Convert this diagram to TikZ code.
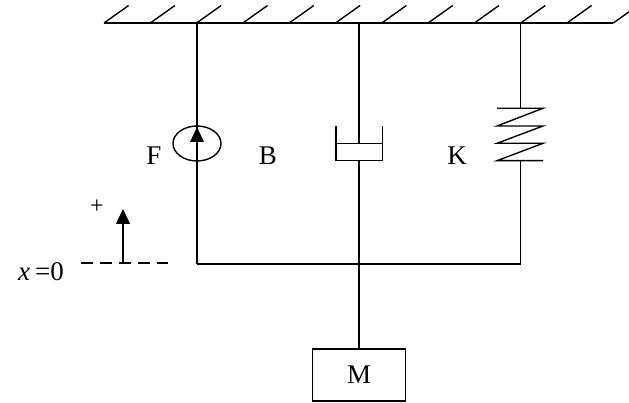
\documentclass[tikz,border=0pt]{standalone}
\usepackage{fontspec}
\setmainfont{Liberation Serif}
\usetikzlibrary{arrows.meta,shapes.geometric}
\begin{document}
\begin{tikzpicture}[x=1pt,y=-1pt,
  ln/.style={line width=1.4pt},
  lbl/.style={font=\fontsize{27}{27}\selectfont, inner sep=0pt},
  massbox/.style={draw, line width=1.4pt, minimum width=93pt, minimum height=52pt, inner sep=0pt, font=\fontsize{27}{27}\selectfont},
  srcell/.style={draw, ellipse, line width=1.4pt, minimum width=48pt, minimum height=35pt, inner sep=0pt}
]
\useasboundingbox (0,0) rectangle (629,403);
% ceiling
\coordinate (cl) at (104,23);
\coordinate (cr) at (613,23);
\draw[ln] (cl) -- (cr);
\foreach \k in {0,...,11}{
  \draw[ln] ({104+46.3*\k},23) -- ++(24.6,-17.5);
}
% attachment points
\coordinate (fa) at (197,23);
\coordinate (ba) at (359,23);
\coordinate (ka) at (520.5,23);
\coordinate (fb) at (197,264);
\coordinate (bb) at (359,264);
\coordinate (kb) at (520.5,264);
% F source
\node[srcell] (F) at (197,143.5) {};
\draw[ln] (fa) -- (fb);
\fill (197,127) -- (190,142) -- (204,142) -- cycle;
\node[lbl] (Fl) at (154,155.5) {F};
% dashpot
\coordinate (pist) at (359,143.3);
\coordinate (cyb) at (359,160.7);
\draw[ln] (ba) -- (pist);
\draw[ln] (336,143.3) -- (382.5,143.3);
\draw[ln] (336,125.7) -- (336,160.7) -- (382.5,160.7) -- (382.5,125.7);
\draw[ln] (cyb) -- (bb);
\node[lbl] (Bl) at (268,155.5) {B};
% spring
\coordinate (st) at (520.5,108.3);
\coordinate (sb) at (520.5,160.7);
\draw[ln] (ka) -- (st);
\draw[ln, line join=miter] (497,108.3) -- (543,108.3) -- (497,126) -- (543,126) -- (497,143.3) -- (543,143.3) -- (497,160.7) -- (543,160.7);
\draw[ln] (sb) -- (kb);
\node[lbl] (Kl) at (457,155.5) {K};
% bottom bar
\draw[ln] (fb) -- (kb);
% mass
\node[massbox] (M) at (359,375) {M};
\draw[ln] (bb) -- (M.north);
% reference
\coordinate (d1) at (81,263);
\coordinate (d2) at (168,263);
\draw[ln, dash pattern=on 12pt off 7pt] (d1) -- (d2);
\coordinate (ab) at (123,263);
\coordinate (at) at (123,209);
\draw[ln, -{Triangle[length=15pt,width=14pt]}] (ab) -- (at);
\node[inner sep=0pt, font=\fontsize{24}{24}\selectfont] (plus) at (97,207) {+};
\node[lbl, anchor=base] (x0) at (41,281) {\textit{x}\kern5pt=0};
\end{tikzpicture}
\end{document}
